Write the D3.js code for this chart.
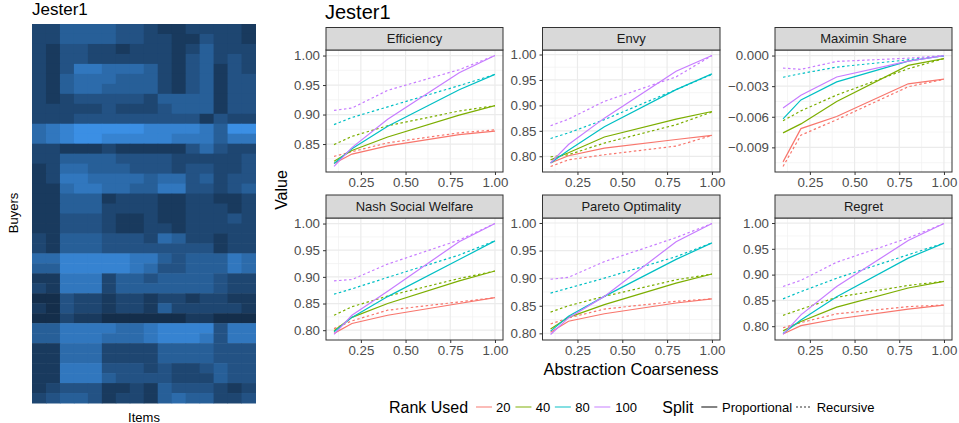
<!DOCTYPE html>
<html><head><meta charset="utf-8">
<script src="https://cdn.jsdelivr.net/npm/d3@7"></script>
<style>html,body{margin:0;padding:0;background:#fff}svg{display:block}text{font-family:"Liberation Sans",Arial,sans-serif}</style>
</head><body><div id="c"></div>
<script>
const coarseness=[0.1,0.2,0.4,0.8,1.0];
const ranks=[20,40,80,100];
const rankColors=["#F8766D","#7CAE00","#00BFC4","#C77CFF"];
const splits=["Proportional","Recursive"];
const metrics=["Efficiency","Envy","Maximin Share","Nash Social Welfare","Pareto Optimality","Regret"];
const xTicks=[0.25,0.5,0.75,1];
const xMinor=[0.125,0.375,0.625,0.875];

const efficiencyP=[[.817,.833,.847,.866,.872],[.821,.839,.862,.899,.915],[.817,.842,.880,.942,.968],[.812,.844,.892,.971,1]];
const efficiencyR=[[.829,.837,.852,.869,.874],[.849,.863,.881,.906,.915],[.883,.895,.913,.949,.968],[.907,.911,.941,.976,1]];
const envyP=[[.787,.801,.816,.833,.841],[.793,.807,.838,.873,.888],[.787,.812,.858,.931,.962],[.787,.823,.875,.967,.998]];
const envyR=[[.780,.793,.803,.820,.841],[.799,.803,.826,.862,.887],[.835,.846,.872,.931,.961],[.860,.873,.908,.956,.998]];
const maximinP=[[-.01042,-.00716,-.00597,-.00277,-.00232],[-.00758,-.0067,-.0045,-.00097,-.0003],[-.0062,-.00435,-.00258,-.00055,-.00002],[-.00513,-.0039,-.0021,-.00055,0]];
const maximinR=[[-.01087,-.0078,-.00629,-.00306,-.00232],[-.00639,-.00542,-.00387,-.00129,-.0003],[-.00213,-.00177,-.00113,-.00042,-.00003],[-.00123,-.00135,-.00058,-.00026,0]];
const nashP=[[.794,.8125,.828,.85,.861],[.799,.824,.85,.8925,.911],[.797,.824,.863,.9325,.9675],[.792,.828,.873,.966,1]];
const nashR=[[.803,.8175,.8375,.853,.861],[.828,.844,.864,.897,.911],[.8675,.8775,.899,.941,.9675],[.8925,.895,.924,.969,1]];
const paretoP=[[.802,.822,.8355,.855,.8625],[.808,.829,.852,.891,.9075],[.804,.831,.867,.934,.964],[.798,.828,.867,.966,.999]];
const paretoR=[[.817,.828,.844,.858,.8625],[.8385,.85,.867,.897,.9075],[.873,.882,.90,.939,.964],[.898,.9015,.93,.9735,.999]];
const regretP=[[.785,.801,.814,.833,.841],[.791,.809,.837,.874,.887],[.786,.812,.857,.932,.961],[.784,.822,.877,.966,.999]];
const regretR=[[.797,.807,.824,.838,.841],[.821,.833,.856,.879,.887],[.853,.867,.893,.9385,.961],[.877,.889,.924,.971,.999]];
const proportional=[efficiencyP,envyP,maximinP,nashP,paretoP,regretP];
const recursive=[efficiencyR,envyR,maximinR,nashR,paretoR,regretR];
const yTicks=[[.85,.9,.95,1],[.8,.85,.9,.95,1],[-.009,-.006,-.003,0],[.8,.85,.9,.95,1],[.8,.85,.9,.95,1],[.8,.85,.9,.95,1]];

// heatmap, coarse blocks (0 dark .. 9 bright)
const heatRows=[
"3355554432233332","3355554433224332","3244332333235333","3244333333245343",
"3247766653245243","3256665553245244","3256655553245244","3234444435555244",
"3333343334555244","3334444444442433","6789999988887599","6789988888777577",
"3322232222246433","3355554444333334","2366555444344334","2377666656645344",
"2267766557744345","2255523332233223","2255533332233323","2244432232233343",
"2244432233233333","3255544436533233","3255544444444233","6688888775455576",
"5588888764455576","2277735545555433","3277735555555433","1143323323323322",
"2143323325333332","1132211111122111","5577776678888477","5577766678887477",
"2266633335555444","2266633335555444","2277744434334544","2277754444333544",
"2344422325444323","3455423325655334"];

const W=959,H=423;
const svg=d3.select("#c").append("svg").attr("width",W).attr("height",H);
const txt=(x,y,s,size,anchor="start",fill="#000")=>svg.append("text").attr("x",x).attr("y",y).attr("font-size",size).attr("text-anchor",anchor).attr("fill",fill).text(s);

// heatmap
const hx=d3.scaleBand().domain(d3.range(heatRows[0].length)).range([32,255.5]);
const hy=d3.scaleBand().domain(d3.range(heatRows.length)).range([24,403]);
const hc=d3.scaleLinear().domain([0,9]).range(["#0F2238","#3B8FE4"]);
heatRows.forEach((row,r)=>{
  svg.append("g").selectAll("rect").data(row.split("").map(Number)).join("rect")
    .attr("x",(d,i)=>hx(i)).attr("y",hy(r)).attr("width",hx.bandwidth()+.5).attr("height",hy.bandwidth()+.5).attr("fill",d=>hc(d));
});
txt(32,15,"Jester1",17);
txt(144,423,"Items",13,"middle").attr("y",422);
svg.append("text").attr("transform","translate(18,213) rotate(-90)").attr("text-anchor","middle").attr("font-size",13).text("Buyers");

// facets
const colsX=[[326,503],[542.5,720],[775,952]];
const rowsY=[[27.5,50,172],[195,218,340]];
const line=(xs,ys)=>d3.line().x((d,i)=>xs(coarseness[i])).y(d=>ys(d));
metrics.forEach((m,k)=>{
  const [x0,x1]=colsX[k%3],[st,y0,y1]=rowsY[Math.floor(k/3)];
  const all=proportional[k].flat().concat(recursive[k].flat());
  const [mn,mx]=d3.extent(all),pad=(mx-mn)*.05;
  const xs=d3.scaleLinear().domain([.1-.045,1+.045]).range([x0,x1]);
  const ys=d3.scaleLinear().domain([mn-pad,mx+pad]).range([y1,y0]);
  const g=svg.append("g");
  const step=yTicks[k][1]-yTicks[k][0];
  const yMinor=d3.range(yTicks[k][0]-step/2,mx+pad,step).filter(v=>v>mn-pad);
  g.selectAll(".xm").data(xMinor).join("line").attr("x1",xs).attr("x2",xs).attr("y1",y0).attr("y2",y1).attr("stroke","#F0F0F0").attr("stroke-width",.7);
  g.selectAll(".ym").data(yMinor).join("line").attr("x1",x0).attr("x2",x1).attr("y1",ys).attr("y2",ys).attr("stroke","#F0F0F0").attr("stroke-width",.7);
  g.selectAll(".xg").data(xTicks).join("line").attr("x1",xs).attr("x2",xs).attr("y1",y0).attr("y2",y1).attr("stroke","#EBEBEB").attr("stroke-width",1.2);
  g.selectAll(".yg").data(yTicks[k]).join("line").attr("x1",x0).attr("x2",x1).attr("y1",ys).attr("y2",ys).attr("stroke","#EBEBEB").attr("stroke-width",1.2);
  [[recursive[k],"2.5 2.5"],[proportional[k],null]].forEach(([set,dash])=>{
    set.forEach((vals,s)=>{
      g.append("path").attr("d",line(xs,ys)(vals)).attr("fill","none").attr("stroke",rankColors[s]).attr("stroke-width",1.2).attr("stroke-dasharray",dash);
    });
  });
  g.append("rect").attr("x",x0).attr("y",y0).attr("width",x1-x0).attr("height",y1-y0).attr("fill","none").attr("stroke","#333").attr("stroke-width",1);
  g.append("rect").attr("x",x0).attr("y",st).attr("width",x1-x0).attr("height",y0-st).attr("fill","#D9D9D9").attr("stroke","#333").attr("stroke-width",1);
  g.append("text").attr("x",(x0+x1)/2).attr("y",(st+y0)/2+4.5).attr("text-anchor","middle").attr("font-size",13).attr("fill","#1A1A1A").text(m);
  const ax=g.append("g").attr("transform",`translate(0,${y1})`).call(d3.axisBottom(xs).tickValues(xTicks).tickFormat(d3.format(".2f")).tickSize(3).tickPadding(3));
  const fmt=k===2?(d=>d===0?"0.000":"\u2212"+d3.format(".3f")(-d)):d3.format(".2f");
  const ay=g.append("g").attr("transform",`translate(${x0},0)`).call(d3.axisLeft(ys).tickValues(yTicks[k]).tickFormat(fmt).tickSize(3).tickPadding(3));
  [ax,ay].forEach(a=>{
    a.select(".domain").remove();
    a.selectAll(".tick line").attr("stroke","#333");
    a.selectAll("text").attr("font-size",13.3).attr("font-family",'"Liberation Sans",Arial,sans-serif').attr("fill","#4D4D4D");
  });
});
txt(325,19,"Jester1",20);
txt(631,375,"Abstraction Coarseness",16.5,"middle");
svg.append("text").attr("transform","translate(287,190) rotate(-90)").attr("text-anchor","middle").attr("font-size",16).text("Value");

// legends
const ly=407;
txt(389,ly+5.5,"Rank Used",16);
const rankSw=d3.scalePoint().domain(ranks).range([476,594.3]);
const rankLabelX=d3.scaleOrdinal().domain(ranks).range([496,535.7,575.3,615.3]);
ranks.forEach((r,i)=>{
  svg.append("line").attr("x1",rankSw(r)).attr("x2",rankSw(r)+16).attr("y1",ly).attr("y2",ly).attr("stroke",rankColors[i]).attr("stroke-width",1.2).attr("opacity",.8);
  txt(rankLabelX(r),ly+4.5,r,13);
});
txt(662.3,ly+5.5,"Split",16);
const splitSw=d3.scaleOrdinal().domain(splits).range([701.3,796]);
const splitLabel=d3.scaleOrdinal().domain(splits).range([722,816.7]);
splits.forEach((s,i)=>{
  svg.append("line").attr("x1",splitSw(s)).attr("x2",splitSw(s)+16).attr("y1",ly).attr("y2",ly).attr("stroke","#333").attr("stroke-width",1.2).attr("stroke-dasharray",i?"2 2":null);
  txt(splitLabel(s),ly+4.5,s,13);
});
</script></body></html>
